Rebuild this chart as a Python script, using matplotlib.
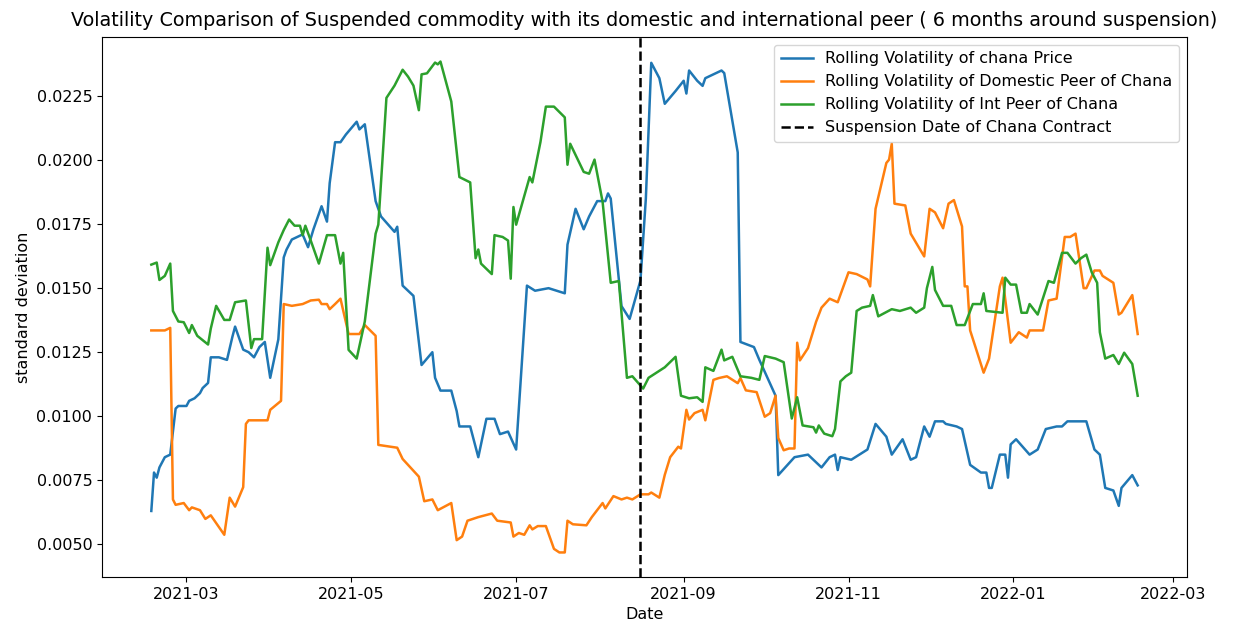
import numpy as np
import pandas as pd
import matplotlib
matplotlib.use('Agg')
import matplotlib.pyplot as plt

# days counted from 2021-02-16
start = pd.Timestamp('2021-02-16')
suspension = pd.Timestamp('2021-08-16')

chana_days = [0, 1, 2, 3, 5, 7, 9, 10, 13, 14,
              16, 18, 19, 21, 22, 25, 28, 30, 31, 34,
              36, 38, 40, 42, 44, 47, 49, 50, 52, 54,
              56, 58, 60, 63, 65, 66, 68, 70, 72, 76,
              77, 79, 83, 85, 90, 91, 93, 97, 100, 104,
              105, 107, 111, 113, 114, 118, 121, 124, 127, 129,
              132, 135, 139, 142, 147, 153, 154, 157, 160, 162,
              165, 168, 169, 170, 174, 177, 181, 183, 185, 188,
              190, 194, 197, 198, 199, 202, 204, 205, 209, 211,
              212, 217, 218, 223, 225, 231, 232, 238, 243, 245,
              248, 251, 253, 254, 255, 259, 265, 268, 272, 274,
              278, 281, 283, 286, 288, 290, 293, 294, 298, 300,
              303, 307, 309, 310, 311, 314, 316, 317, 318, 320,
              325, 328, 331, 335, 337, 339, 343, 346, 349, 351,
              353, 356, 358, 359, 363, 365]
chana_vol = [0.0063, 0.0078, 0.0076, 0.0080, 0.0084, 0.0085, 0.0103, 0.0104, 0.0104, 0.0106,
             0.0107, 0.0109, 0.0111, 0.0113, 0.0123, 0.0123, 0.0122, 0.0131, 0.0135, 0.0126,
             0.0125, 0.0123, 0.0127, 0.0129, 0.0115, 0.0130, 0.0162, 0.0165, 0.0169, 0.0170,
             0.0171, 0.0166, 0.0173, 0.0182, 0.0176, 0.0191, 0.0207, 0.0207, 0.0210, 0.0215,
             0.0212, 0.0214, 0.0184, 0.0178, 0.0172, 0.0174, 0.0151, 0.0147, 0.0120, 0.0125,
             0.0115, 0.0110, 0.0110, 0.0102, 0.0096, 0.0096, 0.0084, 0.0099, 0.0099, 0.0093,
             0.0094, 0.0087, 0.0151, 0.0149, 0.0150, 0.0148, 0.0167, 0.0181, 0.0173, 0.0178,
             0.0184, 0.0184, 0.0187, 0.0185, 0.0143, 0.0138, 0.0153, 0.0185, 0.0238, 0.0232,
             0.0222, 0.0227, 0.0231, 0.0226, 0.0235, 0.0231, 0.0229, 0.0232, 0.0234, 0.0235,
             0.0234, 0.0203, 0.0129, 0.0127, 0.0122, 0.0108, 0.0077, 0.0084, 0.0085, 0.0083,
             0.0080, 0.0084, 0.0085, 0.0079, 0.0084, 0.0083, 0.0087, 0.0097, 0.0092, 0.0085,
             0.0091, 0.0083, 0.0084, 0.0096, 0.0092, 0.0098, 0.0098, 0.0097, 0.0096, 0.0095,
             0.0081, 0.0078, 0.0078, 0.0072, 0.0072, 0.0085, 0.0085, 0.0076, 0.0089, 0.0091,
             0.0085, 0.0087, 0.0095, 0.0096, 0.0096, 0.0098, 0.0098, 0.0098, 0.0087, 0.0085,
             0.0072, 0.0071, 0.0065, 0.0072, 0.0077, 0.0073]

dom_days = [0, 5, 7, 8, 9, 12, 14, 15, 18, 20,
            22, 27, 29, 31, 34, 35, 36, 43, 44, 48,
            49, 52, 56, 59, 62, 63, 65, 66, 68, 70,
            73, 77, 79, 83, 84, 91, 93, 99, 101, 104,
            106, 111, 113, 115, 117, 121, 126, 128, 133, 134,
            136, 138, 140, 141, 143, 146, 149, 151, 153, 154,
            156, 161, 163, 167, 168, 171, 174, 176, 178, 181,
            184, 185, 188, 190, 192, 195, 196, 198, 199, 201,
            204, 205, 208, 210, 213, 217, 218, 220, 224, 227,
            229, 231, 232, 234, 236, 238, 239, 240, 243, 246,
            248, 251, 254, 258, 261, 265, 266, 268, 272, 273,
            274, 275, 279, 281, 286, 288, 290, 293, 295, 297,
            300, 301, 302, 303, 308, 310, 314, 315, 318, 321,
            324, 325, 330, 332, 335, 338, 340, 342, 345, 346,
            349, 351, 352, 356, 358, 359, 363, 365]
dom_vol = [0.01335, 0.01335, 0.01345, 0.00675, 0.00654, 0.00661, 0.00633, 0.00644, 0.00633, 0.00599,
           0.00613, 0.00537, 0.00682, 0.00647, 0.00723, 0.0097, 0.00984, 0.00984, 0.01025, 0.0106,
           0.01438, 0.01431, 0.01438, 0.01452, 0.01455, 0.01438, 0.01438, 0.01418, 0.01438, 0.01459,
           0.01321, 0.01321, 0.01356, 0.01314, 0.00888, 0.00877, 0.00833, 0.00764, 0.00668, 0.00675,
           0.00633, 0.00661, 0.00516, 0.0053, 0.00592, 0.00606, 0.0062, 0.00592, 0.00585, 0.0053,
           0.00544, 0.00537, 0.00574, 0.00558, 0.00571, 0.00571, 0.00482, 0.00468, 0.00468, 0.00592,
           0.00578, 0.00574, 0.00606, 0.00661, 0.0064, 0.00688, 0.00675, 0.00682, 0.00675, 0.00695,
           0.00695, 0.00702, 0.00682, 0.00771, 0.0084, 0.00881, 0.00874, 0.01025, 0.00987, 0.01012,
           0.01025, 0.00984, 0.01142, 0.01149, 0.01156, 0.01129, 0.01149, 0.01101, 0.01094, 0.00998,
           0.01012, 0.0108, 0.00915, 0.00867, 0.00874, 0.00874, 0.01287, 0.01218, 0.01266, 0.01369,
           0.01424, 0.01459, 0.01445, 0.01562, 0.01555, 0.01534, 0.01507, 0.0181, 0.01989, 0.02002,
           0.02064, 0.0183, 0.01823, 0.01713, 0.01624, 0.0181, 0.01796, 0.01734, 0.0183, 0.01844,
           0.01741, 0.01507, 0.01507, 0.01335, 0.0117, 0.01225, 0.01507, 0.01541, 0.01287, 0.01328,
           0.01307, 0.01335, 0.01335, 0.01452, 0.01459, 0.017, 0.017, 0.01713, 0.0150, 0.0150,
           0.01569, 0.01569, 0.01548, 0.01521, 0.01397, 0.01404, 0.01473, 0.01321]

int_days = [0, 1, 2, 3, 5, 7, 8, 10, 12, 14,
            15, 17, 21, 22, 24, 27, 29, 31, 35, 37,
            38, 41, 43, 44, 47, 49, 51, 53, 55, 56,
            57, 59, 62, 65, 68, 70, 71, 73, 76, 79,
            83, 84, 87, 90, 93, 95, 97, 99, 100, 102,
            105, 106, 107, 111, 114, 118, 120, 121, 122, 126,
            127, 130, 132, 133, 134, 135, 140, 141, 144, 146,
            149, 153, 154, 155, 160, 162, 164, 167, 170, 173,
            176, 178, 182, 184, 190, 194, 196, 199, 202, 204,
            205, 208, 211, 212, 215, 218, 222, 225, 227, 231,
            234, 237, 239, 241, 245, 246, 247, 249, 252, 253,
            255, 257, 259, 261, 263, 266, 267, 269, 274, 277,
            281, 283, 286, 287, 289, 290, 293, 296, 298, 301,
            304, 307, 308, 309, 315, 316, 318, 320, 322, 324,
            325, 328, 332, 334, 337, 339, 342, 344, 346, 348,
            350, 351, 353, 356, 358, 360, 363, 365]
int_vol = [0.01592, 0.01596, 0.0160, 0.01532, 0.01548, 0.01596, 0.01411, 0.0137, 0.01367, 0.01325,
           0.01356, 0.01314, 0.0128, 0.01342, 0.01431, 0.01376, 0.01376, 0.01445, 0.01452, 0.01266,
           0.01301, 0.01301, 0.01658, 0.0159, 0.01679, 0.01727, 0.01768, 0.01744, 0.01744, 0.01707,
           0.01744, 0.01686, 0.01596, 0.01707, 0.01707, 0.01596, 0.01638, 0.01259, 0.01225, 0.0137,
           0.01713, 0.01748, 0.02243, 0.02291, 0.02353, 0.02326, 0.02291, 0.02195, 0.02335, 0.02339,
           0.02381, 0.02374, 0.02385, 0.02229, 0.01934, 0.01913, 0.01617, 0.01651, 0.01596, 0.01555,
           0.01707, 0.0170, 0.01686, 0.01537, 0.01817, 0.01748, 0.01934, 0.01913, 0.02071, 0.02209,
           0.02209, 0.02167, 0.01982, 0.02064, 0.01954, 0.01947, 0.02002, 0.01837, 0.01521, 0.01528,
           0.0115, 0.01156, 0.01108, 0.0115, 0.01191, 0.01232, 0.0108, 0.0107, 0.01074, 0.01056,
           0.01191, 0.01177, 0.0126, 0.01218, 0.01232, 0.01156, 0.0115, 0.01142, 0.01235, 0.01225,
           0.01211, 0.00991, 0.01074, 0.00964, 0.00957, 0.00936, 0.00964, 0.00932, 0.00922, 0.0095,
           0.01136, 0.01156, 0.0117, 0.01411, 0.01424, 0.01431, 0.01473, 0.0139, 0.01418, 0.01411,
           0.01424, 0.01404, 0.01424, 0.0150, 0.01583, 0.01493, 0.01431, 0.01431, 0.01356, 0.01356,
           0.01438, 0.01438, 0.0148, 0.01411, 0.01404, 0.01541, 0.01514, 0.01514, 0.01404, 0.01404,
           0.01438, 0.01397, 0.01528, 0.01521, 0.01638, 0.01638, 0.01596, 0.01617, 0.01631, 0.01562,
           0.01521, 0.01328, 0.01225, 0.01239, 0.01204, 0.01248, 0.01204, 0.0108]

def to_dates(days):
    return start + pd.to_timedelta(days, unit='D')

fig = plt.figure(figsize=(12.33, 6.28), dpi=100)
ax = fig.add_axes([102/1233, 51/628, 1085/1233, 540/628])

ax.plot(to_dates(chana_days), chana_vol, label='Rolling Volatility of chana Price', lw=1.8)
ax.plot(to_dates(dom_days), dom_vol, label='Rolling Volatility of Domestic Peer of Chana', lw=1.8)
ax.plot(to_dates(int_days), int_vol, label='Rolling Volatility of Int Peer of Chana', lw=1.8)
ax.axvline(suspension, color='black', linestyle='--', lw=1.8, label='Suspension Date of Chana Contract')

ax.set_title('Volatility Comparison of Suspended commodity with its domestic and international peer ( 6 months around suspension)',
             fontsize=13.8, pad=8)
ax.set_xlabel('Date', fontsize=11.5)
ax.set_ylabel('standard deviation', fontsize=11.5)
ax.tick_params(labelsize=11.5)
ax.legend(loc='upper right', fontsize=11.5)

plt.savefig('out.png', dpi=100)
